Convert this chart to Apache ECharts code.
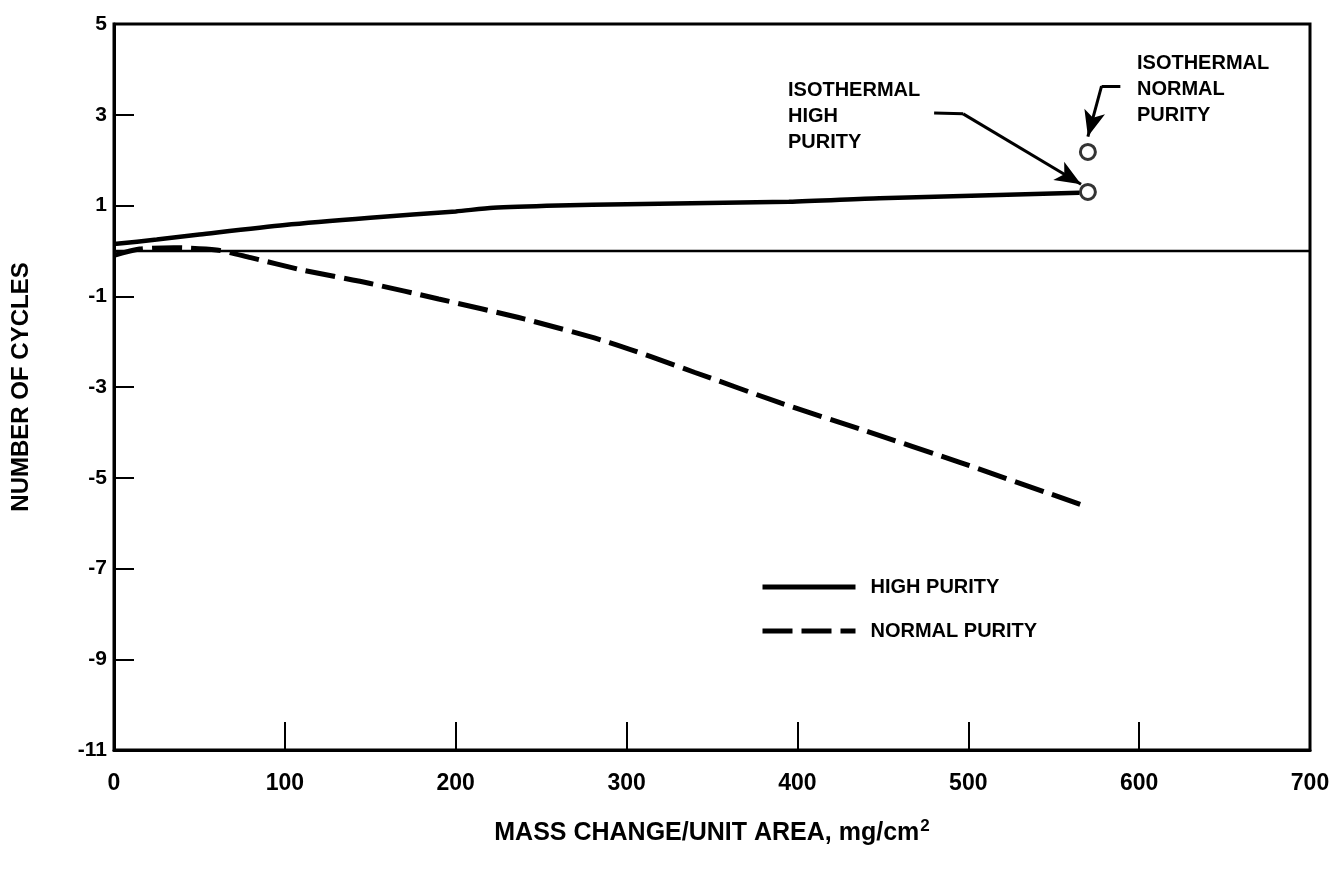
<!DOCTYPE html>
<html>
<head>
<meta charset="utf-8">
<script src="https://cdn.jsdelivr.net/npm/echarts@6/dist/echarts.min.js"></script>
<style>
html,body{margin:0;padding:0;background:#fff;}
#chart{width:1336px;height:875px;}
</style>
</head>
<body>
<div id="chart"></div>
<script>
// ---- data ----
var xTicks = [0, 100, 200, 300, 400, 500, 600, 700];
var yTicks = [-11, -9, -7, -5, -3, -1, 1, 3, 5];

var highPurity = [
  [0, 0.15], [25, 0.25], [50, 0.36], [100, 0.57], [150, 0.73], [200, 0.87],
  [222, 0.95], [260, 1.0], [300, 1.03], [395, 1.08], [448, 1.16], [565, 1.28]
];
var normalPurity = [
  [0, -0.1], [15, 0.04], [35, 0.07], [60, 0.02], [80, -0.15], [110, -0.42],
  [150, -0.72], [190, -1.06], [240, -1.5], [290, -2.02], [340, -2.68],
  [390, -3.35], [440, -3.97], [495, -4.66], [568, -5.62]
];
var isoHigh = [[570, 1.30]];
var isoNormal = [[570, 2.18]];
var zeroLine = [[0, 0], [700, 0]];

// annotation arrow anchor points (data coords)
var arrowHigh = [[480, 3.04], [497, 3.02], [566, 1.47]];
var arrowNormal = [[589, 3.63], [578, 3.63], [570, 2.52]];

var FONT = '"Liberation Sans", Arial, Helvetica, sans-serif';

var chart = echarts.init(document.getElementById('chart'), null, {renderer: 'canvas'});

var option = {
  animation: false,
  backgroundColor: '#ffffff',
  textStyle: {fontFamily: FONT, color: '#000'},
  grid: {
    left: 114, right: 26, top: 24, bottom: 125,
    containLabel: false, outerBoundsMode: 'none',
    show: true, borderColor: '#000', borderWidth: 3, backgroundColor: 'transparent'
  },
  legend: {
    orient: 'vertical',
    left: 760, top: 577, padding: 0,
    itemWidth: 93, itemHeight: 16, itemGap: 24,
    itemStyle: {opacity: 0, borderWidth: 0},
    lineStyle: {width: 5},
    textStyle: {fontFamily: FONT, fontSize: 20, fontWeight: 'bold', color: '#000', padding: [0, 0, 0, 10]},
    data: ['HIGH PURITY', 'NORMAL PURITY']
  },
  xAxis: {
    type: 'value', min: 0, max: 700, interval: 100,
    name: '{a|MASS CHANGE/UNIT AREA, mg/cm}{s|2}',
    nameLocation: 'middle', nameGap: 68,
    nameTextStyle: {
      rich: {
        a: {fontFamily: FONT, fontSize: 25, fontWeight: 'bold', color: '#000'},
        s: {fontFamily: FONT, fontSize: 17, fontWeight: 'bold', color: '#000', verticalAlign: 'top', padding: [0, 0, 14, 1]}
      }
    },
    axisLine: {show: true, onZero: false, lineStyle: {color: '#000', width: 3}},
    axisTick: {show: true, inside: true, length: 28, lineStyle: {color: '#000', width: 2}},
    splitLine: {show: false},
    axisLabel: {
      fontFamily: FONT, fontSize: 23, fontWeight: 'bold', color: '#000', margin: 22,
      formatter: function (v) { return xTicks.indexOf(v) >= 0 ? String(v) : ''; }
    }
  },
  yAxis: {
    type: 'value', min: -11, max: 5, interval: 2,
    name: 'NUMBER OF CYCLES',
    nameLocation: 'middle', nameGap: 81, nameRotate: 90,
    nameTextStyle: {fontFamily: FONT, fontSize: 24, fontWeight: 'bold', color: '#000'},
    axisLine: {show: true, onZero: false, lineStyle: {color: '#000', width: 3}},
    axisTick: {show: true, inside: true, length: 20, lineStyle: {color: '#000', width: 2}},
    splitLine: {show: false},
    axisLabel: {
      fontFamily: FONT, fontSize: 21, fontWeight: 'bold', color: '#000', margin: 7,
      formatter: function (v) {
        if (yTicks.indexOf(v) < 0) return '';
        return v < 0 ? '-' + Math.abs(v) : String(v);
      }
    }
  },
  series: [
    {
      name: 'zero', type: 'line', data: zeroLine, symbol: 'none',
      lineStyle: {color: '#000', width: 2.5}, silent: true, legendHoverLink: false
    },
    {
      name: 'HIGH PURITY', type: 'line', data: highPurity, symbol: 'none',
      smooth: 0.25,
      lineStyle: {color: '#000', width: 4.5},
      itemStyle: {color: '#000'},
      markLine: {
        silent: true, animation: false,
        lineStyle: {color: '#000', width: 3, type: 'solid'},
        label: {show: false},
        symbolSize: [16, 26],
        data: [
          [{coord: arrowHigh[0], symbol: 'none'}, {coord: arrowHigh[1], symbol: 'none'}],
          [{coord: arrowHigh[1], symbol: 'none'}, {coord: arrowHigh[2], symbol: 'arrow'}],
          [{coord: arrowNormal[0], symbol: 'none'}, {coord: arrowNormal[1], symbol: 'none'}],
          [{coord: arrowNormal[1], symbol: 'none'}, {coord: arrowNormal[2], symbol: 'arrow'}]
        ]
      }
    },
    {
      name: 'NORMAL PURITY', type: 'line', data: normalPurity, symbol: 'none',
      smooth: 0.25,
      lineStyle: {color: '#000', width: 5, type: [30, 9]},
      itemStyle: {color: '#000'}
    },
    {
      name: 'ISOTHERMAL HIGH', type: 'scatter', data: isoHigh,
      symbol: 'circle', symbolSize: 15,
      itemStyle: {color: '#fff', borderColor: '#000', borderWidth: 3}
    },
    {
      name: 'ISOTHERMAL NORMAL', type: 'scatter', data: isoNormal,
      symbol: 'circle', symbolSize: 15,
      itemStyle: {color: '#fff', borderColor: '#000', borderWidth: 3}
    }
  ],
  graphic: [
    {
      type: 'text', left: 788, top: 77,
      style: {
        text: 'ISOTHERMAL\nHIGH\nPURITY', fill: '#000',
        font: 'bold 20px ' + FONT, lineHeight: 26
      }
    },
    {
      type: 'text', left: 1137, top: 50,
      style: {
        text: 'ISOTHERMAL\nNORMAL\nPURITY', fill: '#000',
        font: 'bold 20px ' + FONT, lineHeight: 26
      }
    }
  ]
};
chart.setOption(option);
</script>
</body>
</html>
